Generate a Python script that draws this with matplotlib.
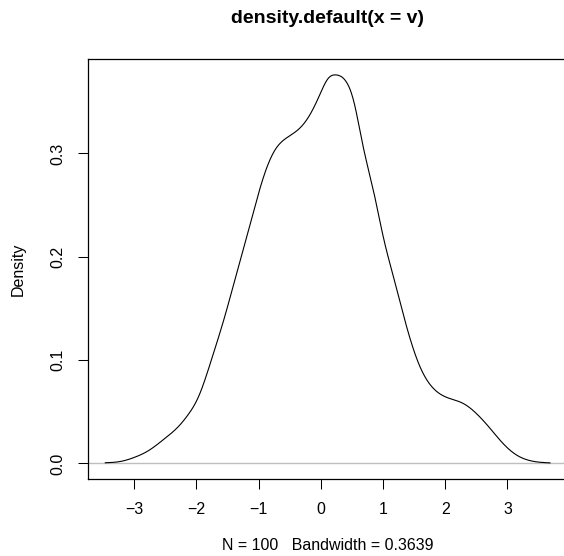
import matplotlib
matplotlib.use("Agg")
import matplotlib.pyplot as plt
import numpy as np

# Density curve (x, density)
dens_x = [-3.465, -3.21, -2.99, -2.78, -2.51, -2.30, -2.135, -1.97, -1.76, -1.545,
          -1.384, -1.22, -1.063, -0.90, -0.74, -0.527, -0.313, -0.17, -0.03, 0.12,
          0.244, 0.389, 0.523, 0.683, 0.844, 1.005, 1.166, 1.381, 1.595, 1.81,
          2.024, 2.29, 2.506, 2.72, 2.934, 3.15, 3.416, 3.685]
dens_y = [0.0006, 0.002, 0.006, 0.012, 0.024, 0.035, 0.047, 0.064, 0.100, 0.142,
          0.177, 0.213, 0.248, 0.281, 0.303, 0.316, 0.326, 0.338, 0.355, 0.3727,
          0.376, 0.371, 0.352, 0.306, 0.2646, 0.219, 0.181, 0.132, 0.0935, 0.0726,
          0.0639, 0.058, 0.048, 0.034, 0.019, 0.008, 0.002, 0.0005]

x_ticks = [-3, -2, -1, 0, 1, 2, 3]
y_ticks = [0.0, 0.1, 0.2, 0.3]
y_tick_labels = ["0.0", "0.1", "0.2", "0.3"]
title = "density.default(x = v)"
xlabel = "N = 100   Bandwidth = 0.3639"
ylabel = "Density"

plt.rcParams['font.family'] = ['Liberation Sans', 'DejaVu Sans']


def natural_spline(x, y, xs):
    x = np.asarray(x, float); y = np.asarray(y, float)
    n = len(x)
    h = np.diff(x)
    A = np.zeros((n, n)); r = np.zeros(n)
    A[0, 0] = 1; A[-1, -1] = 1
    for i in range(1, n - 1):
        A[i, i - 1] = h[i - 1]
        A[i, i] = 2 * (h[i - 1] + h[i])
        A[i, i + 1] = h[i]
        r[i] = 3 * ((y[i + 1] - y[i]) / h[i] - (y[i] - y[i - 1]) / h[i - 1])
    c = np.linalg.solve(A, r)
    b = (y[1:] - y[:-1]) / h - h * (2 * c[:-1] + c[1:]) / 3
    d = (c[1:] - c[:-1]) / (3 * h)
    idx = np.clip(np.searchsorted(x, xs) - 1, 0, n - 2)
    t = xs - x[idx]
    return y[idx] + b[idx] * t + c[idx] * t**2 + d[idx] * t**3


xs = np.linspace(dens_x[0], dens_x[-1], 800)
ys = np.maximum(natural_spline(dens_x, dens_y, xs), 0)

fig = plt.figure(figsize=(5.64, 5.56), dpi=100)
ax = fig.add_axes([87.5 / 564, 77 / 556, 480.3 / 564, 420 / 556])
ax.axhline(0, color="#BEBEBE", lw=1.0, zorder=1)
ax.plot(xs, ys, color="black", lw=0.8, zorder=2)

ax.set_xlim(-3.751, 3.971)
ax.set_ylim(-0.0151, 0.3914)
ax.set_xticks(x_ticks)
ax.set_xticklabels([str(v).replace('-', '\u2212') for v in x_ticks])
ax.set_yticks(y_ticks)
ax.set_yticklabels(y_tick_labels, rotation=90, va='center')
ax.tick_params(axis='both', direction='out', length=7.2, width=0.75, labelsize=11.5)
ax.tick_params(axis='x', pad=9.5)
ax.tick_params(axis='y', pad=8.5)
for s in ax.spines.values():
    s.set_linewidth(0.9)

fig.text(327.6 / 564, 1 - 18.5 / 556, title, ha='center', va='center',
         fontsize=14, fontweight='bold')
fig.text(327.6 / 564, 1 - 546 / 556, xlabel, ha='center', va='center', fontsize=11.5)
fig.text(18 / 564, 1 - 269 / 556, ylabel, ha='center', va='center', rotation=90, fontsize=11.5)

fig.savefig("out.png", dpi=100)
